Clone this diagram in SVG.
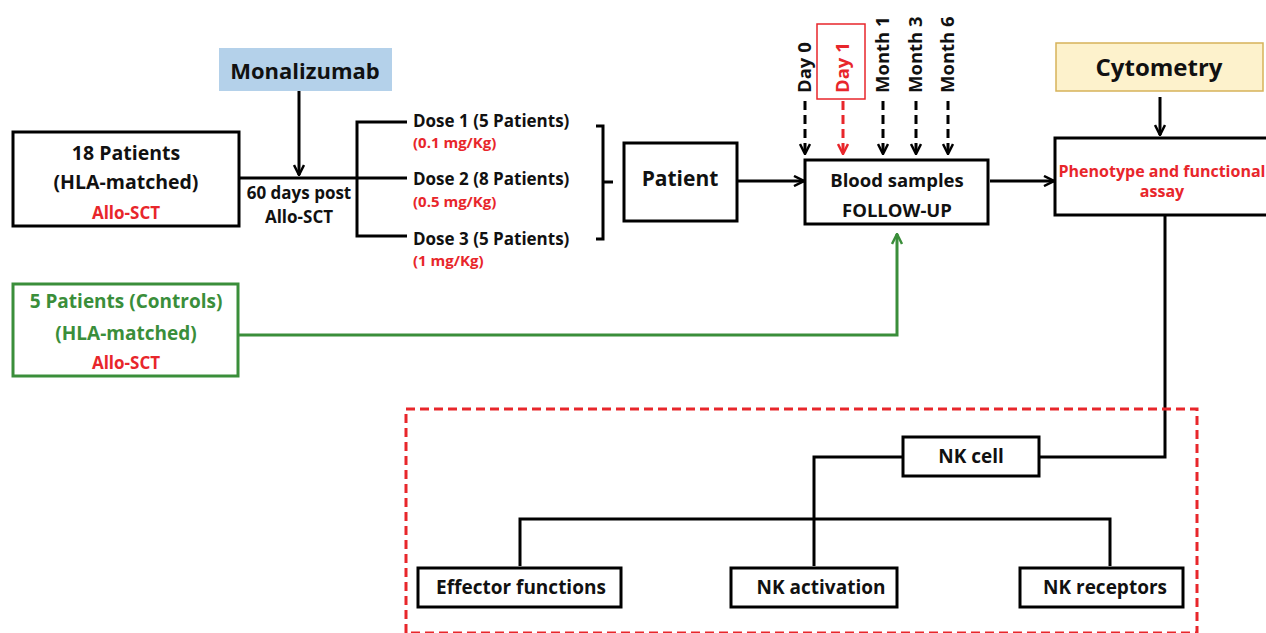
<svg xmlns="http://www.w3.org/2000/svg" width="1266" height="633" viewBox="0 0 1266 633">
<style>
text{font-family:"Open Sans","Liberation Sans",sans-serif;font-weight:700;fill:#111}
.c{text-anchor:middle}
.r{fill:#e8262b}
.g{fill:#3a8e3a}
.box{fill:#fff;stroke:#000;stroke-width:3}
.ln{fill:none;stroke:#000;stroke-width:3}
.dash{fill:none;stroke:#000;stroke-width:3;stroke-dasharray:9 5}
</style>
<defs>
<marker id="ah" viewBox="0 0 12 12" refX="11" refY="6" markerWidth="12" markerHeight="12" markerUnits="userSpaceOnUse" orient="auto">
<path d="M1,1 L11,6 L1,11" fill="none" stroke="#000" stroke-width="2.5"/>
</marker>
<marker id="ahr" viewBox="0 0 12 12" refX="11" refY="6" markerWidth="12" markerHeight="12" markerUnits="userSpaceOnUse" orient="auto">
<path d="M1,1 L11,6 L1,11" fill="none" stroke="#e8262b" stroke-width="2.5"/>
</marker>
<marker id="ahg" viewBox="0 0 12 12" refX="11" refY="6" markerWidth="12" markerHeight="12" markerUnits="userSpaceOnUse" orient="auto">
<path d="M1,1 L11,6 L1,11" fill="none" stroke="#3a8e3a" stroke-width="2.5"/>
</marker>
</defs>
<rect width="1266" height="633" fill="#fff"/>

<g id="connectors">
<line class="ln" x1="239" y1="178" x2="407" y2="178"/>
<path class="ln" d="M407,122 H357 V236 H407"/>
<line class="ln" x1="299" y1="91" x2="299" y2="175" marker-end="url(#ah)"/>
<path class="ln" d="M596,126 H603 V239 H596 M603,182 H613"/>
<line class="ln" x1="738" y1="181" x2="804" y2="181" marker-end="url(#ah)"/>
<line class="ln" x1="990" y1="181" x2="1054" y2="181" marker-end="url(#ah)"/>
<line class="ln" x1="1160" y1="97" x2="1160" y2="135" marker-end="url(#ah)"/>
<line class="dash" x1="805" y1="101" x2="805" y2="154" marker-end="url(#ah)"/>
<line class="dash" x1="843" y1="101" x2="843" y2="154" style="stroke:#e8262b" marker-end="url(#ahr)"/>
<line class="dash" x1="883" y1="101" x2="883" y2="154" marker-end="url(#ah)"/>
<line class="dash" x1="916" y1="101" x2="916" y2="154" marker-end="url(#ah)"/>
<line class="dash" x1="948" y1="101" x2="948" y2="154" marker-end="url(#ah)"/>
<path d="M239,335 H897 V234" fill="none" stroke="#3a8e3a" stroke-width="3" marker-end="url(#ahg)"/>
<path class="ln" d="M1165,216 V457 H1039"/>
<path class="ln" d="M903,457 H814 V566"/>
<path class="ln" d="M520,566 V519 H1110 V566"/>
</g>

<rect x="406" y="409" width="791" height="224" fill="none" stroke="#e8262b" stroke-width="3" stroke-dasharray="9 5"/>

<g id="monalizumab">
<rect x="219" y="48" width="173" height="43" fill="#b4d1ea"/>
<text class="c" x="305" y="79" font-size="22">Monalizumab</text>
</g>
<g id="patients18">
<rect class="box" x="13" y="132" width="226" height="94"/>
<text class="c" x="126" y="160" font-size="19.5">18 Patients</text>
<text class="c" x="126" y="189" font-size="19.5">(HLA-matched)</text>
<text class="c r" x="126" y="219" font-size="17">Allo-SCT</text>
</g>
<g id="timing">
<text class="c" x="299" y="199" font-size="17">60 days post</text>
<text class="c" x="299" y="223" font-size="17">Allo-SCT</text>
</g>
<g id="doses">
<text x="413" y="127" font-size="17">Dose 1 (5 Patients)</text>
<text class="r" x="413" y="148" font-size="15">(0.1 mg/Kg)</text>
<text x="413" y="185" font-size="17">Dose 2 (8 Patients)</text>
<text class="r" x="413" y="207" font-size="15">(0.5 mg/Kg)</text>
<text x="413" y="245" font-size="17">Dose 3 (5 Patients)</text>
<text class="r" x="413" y="266" font-size="15">(1 mg/Kg)</text>
</g>
<g id="patient">
<rect class="box" x="624" y="143" width="113" height="78"/>
<text class="c" x="680" y="186" font-size="21">Patient</text>
</g>
<g id="timepoints">
<rect x="817" y="24" width="48" height="75" fill="none" stroke="#e8262b" stroke-width="1.5"/>
<text transform="translate(811,93) rotate(-90)" font-size="18.5">Day 0</text>
<text class="r" transform="translate(849,93) rotate(-90)" font-size="18.5">Day 1</text>
<text transform="translate(889,93) rotate(-90)" font-size="18.5">Month 1</text>
<text transform="translate(922,93) rotate(-90)" font-size="18.5">Month 3</text>
<text transform="translate(954,93) rotate(-90)" font-size="18.5">Month 6</text>
</g>
<g id="blood">
<rect class="box" x="805" y="160" width="183" height="64"/>
<text class="c" x="897" y="187" font-size="18.5">Blood samples</text>
<text class="c" x="897" y="217" font-size="18.5">FOLLOW-UP</text>
</g>
<g id="cytometry">
<rect x="1056" y="43" width="207" height="48" fill="#fdf2cc" stroke="#d6b25a" stroke-width="1.5"/>
<text class="c" x="1159" y="76" font-size="24">Cytometry</text>
</g>
<g id="phenotype">
<rect class="box" x="1055" y="138" width="214" height="77"/>
<text class="c r" x="1162" y="177" font-size="16">Phenotype and functional</text>
<text class="c r" x="1162" y="197" font-size="16">assay</text>
</g>
<g id="controls">
<rect x="13" y="284" width="225" height="92" fill="#fff" stroke="#3a8e3a" stroke-width="3"/>
<text class="c g" x="126" y="308" font-size="19">5 Patients (Controls)</text>
<text class="c g" x="126" y="340" font-size="19">(HLA-matched)</text>
<text class="c r" x="126" y="369" font-size="17">Allo-SCT</text>
</g>
<g id="nkcell">
<rect class="box" x="903" y="437" width="136" height="39"/>
<text class="c" x="971" y="463" font-size="19">NK cell</text>
</g>
<g id="effector">
<rect class="box" x="418" y="568" width="203" height="39"/>
<text class="c" x="521" y="594" font-size="19">Effector functions</text>
</g>
<g id="activation">
<rect class="box" x="731" y="568" width="166" height="39"/>
<text class="c" x="821" y="594" font-size="19">NK activation</text>
</g>
<g id="receptors">
<rect class="box" x="1020" y="568" width="163" height="39"/>
<text class="c" x="1105" y="594" font-size="19">NK receptors</text>
</g>
</svg>
